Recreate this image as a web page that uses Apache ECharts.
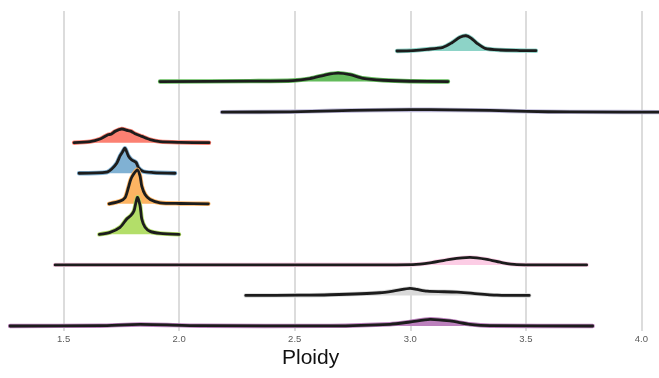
<!DOCTYPE html>
<html>
<head>
<meta charset="utf-8">
<script src="https://cdn.jsdelivr.net/npm/echarts@6/dist/echarts.min.js"></script>
<style>
  html, body { margin: 0; padding: 0; background: #ffffff; }
  #chart { width: 659px; height: 378px; }
</style>
</head>
<body>
<div id="chart"></div>
<script>
// Ploidy density ridges, top to bottom. Each point: [ploidy, density height in row units].
const ridgeTeal = [[2.9425,0],[3.0117,0.016],[3.0722,0.056],[3.1414,0.121],[3.1803,0.272],[3.2149,0.448],[3.2409,0.50],[3.2625,0.425],[3.2885,0.252],[3.3231,0.088],[3.3880,0.033],[3.4745,0.016],[3.5437,0.01]];
const ridgeGreen = [[1.9174,0],[2.3067,0.016],[2.4926,0.033],[2.5662,0.098],[2.6397,0.229],[2.6873,0.278],[2.7392,0.229],[2.7954,0.108],[2.8819,0.043],[2.9987,0.01],[3.1630,0]];
const ridgeLavender = [[2.1856,0],[2.4797,0.01],[2.6657,0.043],[2.8257,0.065],[2.9987,0.082],[3.1717,0.075],[3.3447,0.056],[3.5047,0.023],[3.6907,0.007],[4.2,0]];
const ridgeSalmon = [[1.5454,0],[1.6146,0.033],[1.6579,0.121],[1.6925,0.262],[1.7055,0.275],[1.7228,0.370],[1.7517,0.448],[1.7790,0.393],[1.7920,0.370],[1.8093,0.295],[1.8382,0.206],[1.8741,0.098],[1.9174,0.033],[2.0039,0.01],[2.1293,0]];
const ridgeBlue = [[1.5670,0],[1.6869,0.033],[1.7085,0.141],[1.7301,0.327],[1.7444,0.566],[1.7561,0.710],[1.7660,0.818],[1.7803,0.566],[1.7950,0.435],[1.8136,0.350],[1.8235,0.187],[1.8452,0.056],[1.8871,0.023],[1.9823,0]];
const ridgeOrange = [[1.6968,0],[1.7444,0.088],[1.7660,0.196],[1.7803,0.524],[1.7907,0.795],[1.8019,0.959],[1.8192,1.113],[1.8309,0.906],[1.8382,0.579],[1.8525,0.304],[1.8741,0.141],[1.9174,0.033],[2.0039,0.01],[2.1263,0]];
const ridgeLime = [[1.6548,0],[1.7011,0.065],[1.7444,0.229],[1.7734,0.501],[1.7907,0.612],[1.8049,0.775],[1.8192,1.211],[1.8309,0.939],[1.8382,0.501],[1.8525,0.229],[1.8741,0.098],[1.9174,0.033],[1.9996,0]];
const ridgePink = [[1.4632,0],[2.5229,0.003],[3.0117,0.01],[3.0852,0.065],[3.1717,0.18],[3.2582,0.245],[3.3318,0.18],[3.4010,0.065],[3.4615,0.01],[3.7630,0]];
const ridgeGrey = [[2.2881,0],[2.5229,0.007],[2.6527,0.023],[2.8689,0.088],[2.9425,0.164],[2.9987,0.229],[3.0290,0.196],[3.0722,0.141],[3.2020,0.108],[3.2712,0.065],[3.3750,0.01],[3.5147,0]];
const ridgeMagenta = [[1.2686,0],[1.6579,0.01],[1.8309,0.05],[2.0904,0.01],[2.6527,0.003],[2.9122,0.056],[2.9987,0.131],[3.0852,0.219],[3.1717,0.164],[3.2582,0.056],[3.3447,0.01],[3.7889,0]];

const ridges = [ridgeTeal, ridgeGreen, ridgeLavender, ridgeSalmon, ridgeBlue, ridgeOrange, ridgeLime, ridgePink, ridgeGrey, ridgeMagenta];
const ridgeColors = ['#8dd3c7', '#63bb5b', '#bebada', '#fb8072', '#80b1d3', '#fdb462', '#b3de69', '#fccde5', '#d9d9d9', '#bc80bd'];
const xTicks = [1.0, 1.5, 2.0, 2.5, 3.0, 3.5, 4.0, 4.5];
const axisTitle = 'Ploidy';

const chart = echarts.init(document.getElementById('chart'), null, { renderer: 'canvas' });

// One ridge per data item: filled density, coloured halo, dark outline on top.
function renderRidge(params, api) {
  const idx = api.value(0);
  const pts = ridges[idx];
  const base = ridges.length - 1 - idx;
  const top = pts.map(p => api.coord([p[0], base + p[1]]));
  const left = api.coord([pts[0][0], base]);
  const right = api.coord([pts[pts.length - 1][0], base]);
  const area = [left].concat(top, [right]);
  return {
    type: 'group',
    children: [
      { type: 'polygon', shape: { points: area, smooth: 0.25 },
        style: { fill: ridgeColors[idx], stroke: null } },
      { type: 'polyline', shape: { points: top, smooth: 0.25 },
        style: { stroke: ridgeColors[idx], lineWidth: 4.4, fill: null, lineCap: 'round', lineJoin: 'round' } },
      { type: 'polyline', shape: { points: top, smooth: 0.25 },
        style: { stroke: '#1c1c1c', lineWidth: 2.8, fill: null, lineCap: 'round', lineJoin: 'round' } }
    ]
  };
}

chart.setOption({
  animation: false,
  backgroundColor: '#ffffff',
  grid: { left: -52, right: -98, top: 11, bottom: 47, outerBoundsMode: 'none', containLabel: false },
  xAxis: {
    type: 'value',
    min: xTicks[0],
    max: xTicks[xTicks.length - 1],
    interval: 0.5,
    axisLine: { show: false },
    axisTick: { show: false },
    splitLine: { show: true, lineStyle: { color: '#d9d9d9', width: 1.8 } },
    axisLabel: {
      margin: 3,
      color: '#5a5a5a',
      fontSize: 9.5,
      fontFamily: 'Liberation Sans, Arial, sans-serif',
      formatter: v => v.toFixed(1)
    }
  },
  yAxis: {
    type: 'value',
    min: -0.164,
    max: 10.31,
    show: false,
    splitLine: { show: false }
  },
  graphic: [{
    type: 'text',
    left: 282,
    top: 348,
    style: {
      text: axisTitle,
      fill: '#111111',
      fontSize: 21,
      fontFamily: 'Liberation Sans, Arial, sans-serif'
    }
  }],
  series: [{
    type: 'custom',
    renderItem: renderRidge,
    clip: true,
    data: ridges.map((r, i) => [i])
  }]
});
</script>
</body>
</html>
